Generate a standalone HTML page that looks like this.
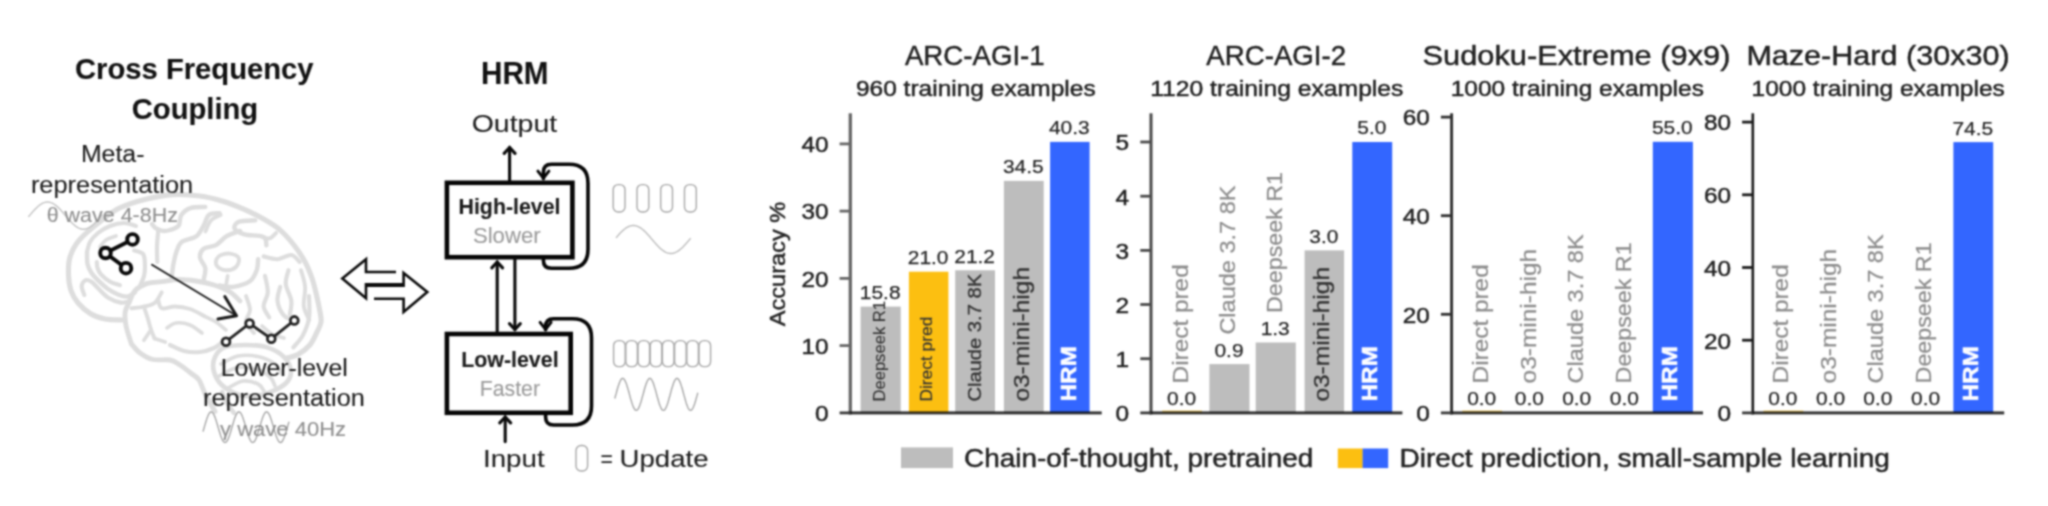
<!DOCTYPE html>
<html><head><meta charset="utf-8"><title>HRM figure</title>
<style>
html,body{margin:0;padding:0;background:#fff;}
body{width:2048px;height:506px;overflow:hidden;}
svg{display:block;font-family:"Liberation Sans",sans-serif;filter:url(#soft);}
svg text{white-space:pre;}
</style></head><body>
<svg width="2048" height="506" viewBox="0 0 2048 506">
<defs><filter id="soft" color-interpolation-filters="sRGB" x="0" y="0" width="100%" height="100%" filterUnits="objectBoundingBox"><feConvolveMatrix order="5" kernelMatrix="1 6 12 6 1 6 41 75 41 6 12 75 140 75 12 6 41 75 41 6 1 6 12 6 1" divisor="704" edgeMode="duplicate" preserveAlpha="true"/></filter></defs>
<rect width="2048" height="506" fill="#ffffff"/>
<g id="left">
<g fill="none" stroke="#dddddd" stroke-linecap="round" stroke-linejoin="round">
<path d="M122.0,320.0 C119.2,319.8 110.2,320.1 105.0,319.0 C99.8,317.9 95.1,316.4 90.6,313.7 C86.1,311.0 81.4,306.9 78.1,303.0 C74.8,299.1 72.6,295.3 71.0,290.6 C69.4,285.9 68.7,280.6 68.5,275.0 C68.3,269.4 68.2,262.9 70.0,257.0 C71.8,251.1 74.2,245.9 79.4,239.8 C84.7,233.7 94.7,225.7 101.5,220.4 C108.3,215.1 112.5,211.4 120.0,207.8 C127.5,204.2 137.8,201.1 146.7,198.9 C155.6,196.7 164.4,195.1 173.3,194.6 C182.2,194.1 191.9,194.9 200.0,196.0 C208.1,197.1 214.6,198.8 222.0,201.0 C229.4,203.2 237.4,206.4 244.3,209.4 C251.2,212.4 257.6,215.7 263.6,219.1 C269.6,222.5 275.1,225.7 280.2,230.1 C285.3,234.5 290.0,240.0 294.1,245.3 C298.2,250.6 302.1,256.4 305.1,261.9 C308.1,267.4 310.2,273.0 312.1,278.5 C314.0,284.0 315.2,289.6 316.5,295.1 C317.8,300.6 319.2,307.2 320.0,311.7 C320.8,316.2 321.5,318.6 321.0,322.0 C320.5,325.4 318.9,328.2 317.0,332.0 C315.1,335.8 313.0,341.2 309.8,345.0 C306.6,348.8 301.8,352.3 298.0,354.5 C294.2,356.7 288.8,357.4 287.0,358.0" stroke-width="5.12"/>
<path d="M309.0,296.0 C309.0,299.7 310.1,311.4 309.0,318.0 C307.9,324.6 305.3,330.7 302.7,335.6 C300.1,340.5 294.9,345.4 293.3,347.4" stroke-width="4.15"/>
<path d="M131.4,343.9 C130.5,340.9 127.1,331.4 126.1,326.1 C125.1,320.8 124.6,316.0 125.2,311.9 C125.8,307.8 128.1,304.8 129.7,301.2 C131.3,297.6 132.1,293.6 135.0,290.6 C137.9,287.6 143.0,284.9 147.4,283.4 C151.8,281.9 156.6,282.3 161.7,281.7 C166.8,281.1 172.3,279.6 178.0,279.5 C183.7,279.4 190.0,280.1 196.0,281.0 C202.0,281.9 208.3,283.2 214.0,285.0 C219.7,286.8 225.7,289.3 230.0,292.0 C234.3,294.7 238.3,299.5 240.0,301.0" stroke-width="4.88"/>
<path d="M131.4,343.9 C132.8,345.4 136.4,350.4 140.0,353.0 C143.6,355.6 148.0,358.3 153.0,359.5 C158.0,360.7 165.5,359.1 170.0,360.0 C174.5,360.9 176.4,362.8 180.0,365.0 C183.6,367.2 188.1,371.0 191.3,373.5 C194.5,376.0 196.6,376.4 199.0,380.0 C201.4,383.6 202.9,389.6 205.6,394.8 C208.3,400.0 213.4,408.6 215.0,411.4" stroke-width="4.88"/>
<path d="M170.0,345.0 C172.3,346.0 179.0,349.8 184.0,351.0 C189.0,352.2 195.0,352.5 200.0,352.0 C205.0,351.5 210.0,349.8 214.0,348.0 C218.0,346.2 222.3,342.2 224.0,341.0" stroke-width="4.15"/>
<path d="M222.0,392.0 C222.8,393.8 225.0,399.5 227.0,403.0 C229.0,406.5 232.8,411.3 234.0,413.0" stroke-width="4.39"/>
<path d="M215.0,357.0 C216.8,353.1 219.4,349.4 224.5,347.4 C229.6,345.4 238.7,345.0 245.8,345.0 C252.9,345.0 260.9,345.4 267.2,347.4 C273.5,349.4 279.9,352.9 283.8,356.9 C287.8,360.8 290.5,366.8 290.9,371.1 C291.3,375.5 289.7,379.4 286.1,383.0 C282.6,386.6 275.3,390.2 269.6,392.4 C263.9,394.6 257.1,395.6 252.0,396.0 C246.8,396.4 243.7,396.6 238.7,394.8 C233.7,393.0 226.2,389.2 222.1,385.3 C217.9,381.4 215.0,375.8 213.8,371.1 C212.6,366.4 213.2,360.9 215.0,357.0Z" stroke-width="4.64"/>
<path d="M221.0,364.0 C223.8,362.7 231.8,357.2 238.0,356.0 C244.2,354.8 251.8,355.2 258.0,356.5 C264.2,357.8 271.0,361.1 275.0,364.0 C279.0,366.9 280.8,372.3 282.0,374.0" stroke-width="3.66"/>
<path d="M219.0,376.0 C221.8,374.7 229.8,369.2 236.0,368.0 C242.2,366.8 250.3,367.5 256.0,369.0 C261.7,370.5 266.8,374.2 270.0,377.0 C273.2,379.8 274.2,384.5 275.0,386.0" stroke-width="3.66"/>
<path d="M228.0,388.0 C230.5,386.8 238.0,381.7 243.0,381.0 C248.0,380.3 254.5,382.3 258.0,384.0 C261.5,385.7 263.0,389.8 264.0,391.0" stroke-width="3.66"/>
<path d="M96.8,262.0 C96.9,263.0 96.8,265.9 97.5,268.0 C98.2,270.1 99.1,272.3 101.2,274.6 C103.3,276.9 107.0,279.9 110.1,281.7 C113.2,283.5 118.3,284.6 119.9,285.2" stroke-width="4.15"/>
<path d="M87.0,252.0 C87.1,254.0 86.8,260.4 87.5,263.9 C88.2,267.4 89.4,269.8 91.4,272.8 C93.4,275.8 96.6,279.0 99.4,281.7 C102.2,284.4 104.9,286.9 108.0,289.0 C111.1,291.1 114.7,293.2 118.0,294.5 C121.3,295.8 125.1,296.9 127.9,296.5 C130.7,296.1 133.8,293.0 135.0,292.3" stroke-width="4.39"/>
<path d="M84.3,295.0 C83.9,293.5 81.5,288.6 81.7,286.1 C81.9,283.6 84.0,280.9 85.6,280.2 C87.2,279.5 89.2,280.3 91.4,281.7 C93.6,283.1 95.8,286.1 98.6,288.8 C101.4,291.5 104.6,295.4 108.3,297.7 C112.0,300.0 117.5,302.0 120.8,302.6 C124.1,303.2 126.8,301.7 128.0,301.5" stroke-width="4.15"/>
<path d="M87.0,252.0 C87.5,250.3 88.2,245.2 90.0,242.0 C91.8,238.8 94.7,235.7 98.0,233.0 C101.3,230.3 105.7,227.7 110.0,226.0 C114.3,224.3 119.7,223.0 124.0,223.0 C128.3,223.0 134.0,225.5 136.0,226.0" stroke-width="4.15"/>
<path d="M100.0,247.0 C101.0,245.8 103.3,241.8 106.0,240.0 C108.7,238.2 114.3,236.7 116.0,236.0" stroke-width="3.66"/>
<path d="M134.2,250.4 C135.7,251.0 141.3,251.6 143.1,254.0 C144.9,256.4 144.8,261.0 144.9,264.7 C145.1,268.4 144.8,272.6 144.0,276.0 C143.2,279.4 140.9,283.7 140.3,285.2" stroke-width="4.15"/>
<path d="M205.3,206.9 C202.9,207.1 195.1,206.5 191.1,207.8 C187.1,209.1 183.4,211.9 181.3,214.9 C179.2,217.9 180.6,223.1 178.7,225.6 C176.8,228.1 172.7,229.1 170.0,230.0 C167.3,230.9 165.1,231.2 162.7,230.9 C160.3,230.6 157.4,229.3 155.6,228.2 C153.8,227.0 152.6,224.7 152.0,224.0" stroke-width="4.39"/>
<path d="M158.2,230.9 C158.0,233.4 157.2,240.8 157.0,246.0 C156.8,251.2 157.2,259.3 157.3,262.0" stroke-width="4.15"/>
<path d="M219.6,213.1 C217.8,213.4 211.6,212.8 208.9,214.9 C206.2,217.0 205.7,222.1 203.6,225.6 C201.5,229.1 200.0,233.5 196.4,236.2 C192.8,238.9 185.4,239.2 182.2,241.6 C178.9,244.0 178.4,246.6 176.9,250.4 C175.4,254.2 174.2,259.9 173.3,264.7 C172.4,269.5 171.9,276.6 171.6,279.0" stroke-width="4.39"/>
<path d="M240.0,230.9 C237.8,231.8 230.7,233.8 226.7,236.2 C222.7,238.6 219.8,243.0 216.0,245.1 C212.2,247.2 206.3,246.6 203.6,248.7 C200.9,250.8 199.7,254.4 200.0,257.6 C200.3,260.9 204.7,264.5 205.3,268.2 C205.9,271.9 203.9,278.0 203.6,280.0" stroke-width="4.39"/>
<path d="M220.8,214.9 C219.2,215.8 213.6,217.6 211.0,220.4 C208.4,223.2 206.4,229.7 205.5,231.5" stroke-width="3.66"/>
<path d="M255.3,220.4 C252.5,220.6 242.1,220.4 238.7,221.8 C235.2,223.2 233.7,226.6 234.6,228.7 C235.5,230.8 239.5,232.9 244.3,234.3 C249.1,235.7 259.9,235.2 263.6,237.0 C267.3,238.8 265.9,243.9 266.4,245.3" stroke-width="4.39"/>
<path d="M276.1,232.9 C275.0,233.8 272.0,237.9 269.2,238.4 C266.4,238.9 261.1,236.1 259.5,235.7" stroke-width="3.90"/>
<path d="M221.0,255.0 C223.2,254.1 227.1,253.1 230.0,253.6 C232.9,254.1 237.7,255.8 238.7,258.0 C239.7,260.2 238.1,265.0 236.0,267.0 C233.9,269.0 229.2,270.4 226.0,270.2 C222.8,270.0 218.6,267.9 217.0,266.0 C215.4,264.1 215.9,260.8 216.6,259.0 C217.3,257.2 218.8,255.9 221.0,255.0Z" stroke-width="3.90"/>
<path d="M227.7,275.8 C227.5,277.2 226.5,282.6 226.3,284.0" stroke-width="3.66"/>
<path d="M258.1,259.2 C257.9,261.0 258.1,266.5 256.7,270.2 C255.3,273.9 253.7,278.5 249.8,281.3 C245.9,284.1 238.3,286.1 233.2,286.8 C228.1,287.5 221.7,285.7 219.4,285.5" stroke-width="4.39"/>
<path d="M263.6,256.4 C265.9,256.9 272.9,259.4 277.5,259.2 C282.1,259.0 287.6,254.6 291.3,255.0 C295.0,255.4 298.2,260.8 299.6,261.9" stroke-width="4.15"/>
<path d="M288.5,270.2 C288.1,272.5 285.3,279.0 285.8,284.1 C286.3,289.2 290.6,295.6 291.3,300.7 C292.0,305.8 290.1,312.2 289.9,314.5" stroke-width="4.15"/>
<path d="M301.0,270.2 C301.7,273.0 304.6,280.8 305.1,286.8 C305.6,292.8 303.1,300.7 303.8,306.2 C304.5,311.7 308.4,317.7 309.3,320.0" stroke-width="3.90"/>
<path d="M265.0,275.8 C265.5,278.6 268.0,287.3 267.8,292.4 C267.6,297.5 263.4,302.0 263.6,306.2 C263.8,310.4 268.3,315.4 269.2,317.3" stroke-width="4.15"/>
<path d="M280.2,286.8 C279.8,289.1 277.0,296.1 277.5,300.7 C278.0,305.3 280.7,311.3 283.0,314.5 C285.3,317.7 289.9,319.1 291.3,320.0" stroke-width="4.15"/>
<path d="M246.0,296.0 C246.7,298.3 250.0,305.7 250.0,310.0 C250.0,314.3 245.3,318.2 246.0,322.0 C246.7,325.8 252.7,331.2 254.0,333.0" stroke-width="3.90"/>
<path d="M262.0,326.0 C263.7,327.3 268.3,332.0 272.0,334.0 C275.7,336.0 282.0,337.3 284.0,338.0" stroke-width="3.66"/>
<path d="M131.4,308.3 C133.5,308.0 140.0,307.5 143.9,306.6 C147.8,305.7 151.6,305.4 154.6,303.0 C157.6,300.6 160.5,294.1 161.7,292.3" stroke-width="3.90"/>
<path d="M143.9,306.6 C144.5,308.4 146.2,313.4 147.4,317.2 C148.6,321.0 149.8,326.1 151.0,329.7 C152.2,333.3 154.0,337.1 154.6,338.6" stroke-width="3.90"/>
<path d="M151.0,329.7 C149.8,331.5 145.1,338.5 143.9,340.3" stroke-width="3.66"/>
<path d="M154.6,338.6 C156.4,339.2 163.4,341.5 165.2,342.1" stroke-width="3.66"/>
<path d="M158.1,299.4 C158.7,300.9 158.9,307.1 161.7,308.3 C164.5,309.5 170.3,306.4 175.0,306.5 C179.7,306.6 185.2,307.4 190.0,309.0 C194.8,310.6 201.7,314.8 204.0,316.0" stroke-width="3.90"/>
<path d="M167.0,327.9 C168.5,327.1 172.2,323.5 176.0,323.0 C179.8,322.5 185.7,323.3 190.0,325.0 C194.3,326.7 200.0,331.7 202.0,333.0" stroke-width="3.66"/>
<path d="M204.0,316.0 C206.0,317.0 212.3,319.7 216.0,322.0 C219.7,324.3 224.3,328.7 226.0,330.0" stroke-width="3.66"/>
</g>

<polyline points="28.4,216.9 29.1,216.0 29.9,215.1 30.6,214.2 31.4,213.4 32.1,212.5 32.9,211.6 33.6,210.8 34.4,210.0 35.1,209.2 35.9,208.4 36.6,207.7 37.4,207.0 38.1,206.3 38.9,205.7 39.6,205.1 40.4,204.5 41.1,204.1 41.9,203.6 42.6,203.2 43.4,202.9 44.1,202.6 44.9,202.4 45.6,202.2 46.4,202.1 47.1,202.0 47.9,202.0 48.6,202.1 49.4,202.2 50.1,202.4 50.9,202.6 51.6,202.9 52.4,203.2 53.1,203.6 53.8,204.0 54.6,204.5 55.3,205.1 56.1,205.6 56.8,206.3 57.6,206.9 58.3,207.6 59.1,208.4 59.8,209.1 60.6,209.9 61.3,210.8 62.1,211.6 62.8,212.5 63.6,213.3 64.3,214.2 65.1,215.1 65.8,216.0 66.6,216.9 67.3,217.8 68.1,218.6 68.8,219.5 69.6,220.3 70.3,221.1 71.1,221.9 71.8,222.7 72.6,223.5 73.3,224.2 74.1,224.8 74.8,225.5 75.6,226.1 76.3,226.6 77.1,227.1 77.8,227.6 78.5,227.9 79.3,228.3 80.0,228.6 80.8,228.8 81.5,229.0 82.3,229.1 83.0,229.2 83.8,229.2 84.5,229.1 85.3,229.0 86.0,228.9 86.8,228.6 87.5,228.4 88.3,228.0 89.0,227.6 89.8,227.2 90.5,226.7 91.3,226.2 92.0,225.6 92.8,225.0 93.5,224.3 94.3,223.6 95.0,222.9 95.8,222.1 96.5,221.3 97.3,220.5 98.0,219.7 98.8,218.8 99.5,218.0 100.3,217.1 101.0,216.2 101.8,215.3 102.5,214.4" fill="none" stroke="#c2c2c2" stroke-width="1.4"/>
<polyline points="203.0,431.6 203.4,430.1 203.9,428.6 204.3,427.1 204.7,425.6 205.2,424.1 205.6,422.7 206.0,421.3 206.5,419.9 206.9,418.6 207.3,417.4 207.8,416.3 208.2,415.3 208.6,414.4 209.1,413.7 209.5,413.0 209.9,412.5 210.3,412.2 210.8,412.0 211.2,411.9 211.6,412.0 212.1,412.2 212.5,412.6 212.9,413.1 213.4,413.7 213.8,414.5 214.2,415.4 214.7,416.4 215.1,417.5 215.5,418.7 216.0,420.0 216.4,421.4 216.8,422.8 217.3,424.2 217.7,425.7 218.1,427.2 218.6,428.7 219.0,430.2 219.4,431.6 219.9,433.0 220.3,434.4 220.7,435.7 221.2,436.9 221.6,438.0 222.0,439.0 222.4,439.9 222.9,440.7 223.3,441.3 223.7,441.8 224.2,442.2 224.6,442.4 225.0,442.5 225.5,442.4 225.9,442.2 226.3,441.9 226.8,441.4 227.2,440.7 227.6,439.9 228.1,439.1 228.5,438.1 228.9,436.9 229.4,435.7 229.8,434.5 230.2,433.1 230.7,431.7 231.1,430.2 231.5,428.8 232.0,427.3 232.4,425.8 232.8,424.3 233.3,422.8 233.7,421.4 234.1,420.1 234.5,418.8 235.0,417.6 235.4,416.4 235.8,415.4 236.3,414.5 236.7,413.8 237.1,413.1 237.6,412.6 238.0,412.2 238.4,412.0 238.9,411.9 239.3,412.0 239.7,412.2 240.2,412.5 240.6,413.0 241.0,413.7 241.5,414.4 241.9,415.3 242.3,416.3 242.8,417.4 243.2,418.6 243.6,419.9 244.1,421.2 244.5,422.6 244.9,424.1 245.4,425.6 245.8,427.1 246.2,428.6 246.6,430.0 247.1,431.5 247.5,432.9 247.9,434.3 248.4,435.6 248.8,436.8 249.2,437.9 249.7,438.9 250.1,439.8 250.5,440.6 251.0,441.3 251.4,441.8 251.8,442.2 252.3,442.4 252.7,442.5 253.1,442.4 253.6,442.2 254.0,441.9 254.4,441.4 254.9,440.8 255.3,440.0 255.7,439.1 256.2,438.2 256.6,437.1 257.0,435.9 257.5,434.6 257.9,433.2 258.3,431.8 258.7,430.4 259.2,428.9 259.6,427.4 260.0,425.9 260.5,424.4 260.9,423.0 261.3,421.6 261.8,420.2 262.2,418.9 262.6,417.7 263.1,416.5 263.5,415.5 263.9,414.6 264.4,413.8 264.8,413.2 265.2,412.6 265.7,412.2 266.1,412.0 266.5,411.9 267.0,412.0 267.4,412.1 267.8,412.5 268.3,413.0 268.7,413.6 269.1,414.3 269.6,415.2 270.0,416.2 270.4,417.3 270.8,418.5 271.3,419.7 271.7,421.1 272.1,422.5 272.6,423.9 273.0,425.4 273.4,426.9 273.9,428.4 274.3,429.9 274.7,431.4 275.2,432.8 275.6,434.1 276.0,435.4 276.5,436.7 276.9,437.8 277.3,438.8 277.8,439.7 278.2,440.5 278.6,441.2 279.1,441.7 279.5,442.1 279.9,442.4 280.4,442.5 280.8,442.5 281.2,442.3 281.7,441.9 282.1,441.5 282.5,440.8 282.9,440.1 283.4,439.2 283.8,438.3 284.2,437.2 284.7,436.0 285.1,434.7 285.5,433.4 286.0,432.0 286.4,430.5 286.8,429.1 287.3,427.6 287.7,426.1 288.1,424.6 288.6,423.1 289.0,421.7" fill="none" stroke="#a6a6a6" stroke-width="1.4"/>
<text x="75.0" y="79.3" font-size="29.5" text-anchor="start" fill="#111" stroke="#111" stroke-width="0.1" font-weight="bold" textLength="238.6" lengthAdjust="spacingAndGlyphs">Cross Frequency</text>
<text x="131.8" y="118.6" font-size="29.5" text-anchor="start" fill="#111" stroke="#111" stroke-width="0.1" font-weight="bold" textLength="126.4" lengthAdjust="spacingAndGlyphs">Coupling</text>
<text x="80.9" y="161.8" font-size="23" text-anchor="start" fill="#1c1c1c" stroke="#1c1c1c" stroke-width="0.1" textLength="63.6" lengthAdjust="spacingAndGlyphs">Meta-</text>
<text x="30.9" y="192.7" font-size="23" text-anchor="start" fill="#1c1c1c" stroke="#1c1c1c" stroke-width="0.1" textLength="162.3" lengthAdjust="spacingAndGlyphs">representation</text>
<text x="46.7" y="222.3" font-size="19.4" text-anchor="start" fill="#8e8e8e" stroke="#8e8e8e" stroke-width="0.1" textLength="131.2" lengthAdjust="spacingAndGlyphs">θ wave 4-8Hz</text>
<text x="220.8" y="375.6" font-size="23" text-anchor="start" fill="#1c1c1c" stroke="#1c1c1c" stroke-width="0.1" textLength="127.1" lengthAdjust="spacingAndGlyphs">Lower-level</text>
<text x="203.0" y="406.4" font-size="23" text-anchor="start" fill="#1c1c1c" stroke="#1c1c1c" stroke-width="0.1" textLength="161.9" lengthAdjust="spacingAndGlyphs">representation</text>
<text x="220.0" y="436.1" font-size="19.4" text-anchor="start" fill="#8e8e8e" stroke="#8e8e8e" stroke-width="0.1" textLength="126.1" lengthAdjust="spacingAndGlyphs">γ wave 40Hz</text>
<g fill="#fff" stroke="#080808" stroke-width="3.9"><path d="M132.5,239.4 L105.5,253 L126,268.2" fill="none"/><circle cx="132.5" cy="239.4" r="5.3"/><circle cx="105.5" cy="253" r="5.3"/><circle cx="126" cy="268.2" r="5.3"/></g>
<g fill="none" stroke="#181818" stroke-width="1.9" stroke-linecap="round" stroke-linejoin="round"><path d="M152,264.8 L236.5,315.7"/><path d="M224.8,296.5 L236.5,315.7 L218,319" stroke-width="3.0"/></g>
<g fill="#fff" stroke="#222" stroke-width="2.8"><path d="M226,341.7 L249.6,323.5 L271.3,338.7 L294.3,320.4" fill="none"/><circle cx="226" cy="341.7" r="3.9"/><circle cx="249.6" cy="323.5" r="3.9"/><circle cx="271.3" cy="338.7" r="3.9"/><circle cx="294.3" cy="320.4" r="3.9"/></g>
<g fill="none" stroke="#0a0a0a" stroke-width="2.6" stroke-linejoin="miter"><path d="M396,272 L366,272 L366,259.2 L342.3,278.4 L366,298.2 L366,284.4 L403.6,284.4"/><path d="M374,298.7 L403.6,298.7 L403.6,312.0 L427.3,292.1 L403.6,273.0 L403.6,285.7 L366,285.7"/></g>
<text x="481.0" y="83.7" font-size="30.5" text-anchor="start" fill="#111" stroke="#111" stroke-width="0.1" font-weight="bold" textLength="67.6" lengthAdjust="spacingAndGlyphs">HRM</text>
<text x="471.7" y="132.4" font-size="24.5" text-anchor="start" fill="#1c1c1c" stroke="#1c1c1c" stroke-width="0.1" textLength="85.5" lengthAdjust="spacingAndGlyphs">Output</text>
<text x="483.0" y="467.2" font-size="24.5" text-anchor="start" fill="#1c1c1c" stroke="#1c1c1c" stroke-width="0.1" textLength="61.6" lengthAdjust="spacingAndGlyphs">Input</text>
<text x="600.6" y="467.2" font-size="24.5" text-anchor="start" fill="#1c1c1c" stroke="#1c1c1c" stroke-width="0.1" textLength="12.4" lengthAdjust="spacingAndGlyphs">=</text>
<text x="619.6" y="467.2" font-size="24.5" text-anchor="start" fill="#1c1c1c" stroke="#1c1c1c" stroke-width="0.1" textLength="89.0" lengthAdjust="spacingAndGlyphs">Update</text>
<g fill="none" stroke="#050505" stroke-width="3.6" stroke-linecap="round" stroke-linejoin="round"><path d="M543.4,259.4 L543.4,260.3 Q543.4,268.3 551.4,268.3 L569.0,268.3 Q588.0,268.3 588.0,249.3 L588.0,183.3 Q588.0,164.3 569.0,164.3 L551.4,164.3 Q543.4,164.3 543.4,172.3 L543.4,178.6"/><path d="M537.9,171.1 L543.4,178.1 L548.9,171.1" stroke-width="2.9"/></g>
<g fill="none" stroke="#050505" stroke-width="3.6" stroke-linecap="round" stroke-linejoin="round"><path d="M545.6,414.2 L545.6,417.0 Q545.6,425.0 553.6,425.0 L572.5,425.0 Q591.5,425.0 591.5,406.0 L591.5,337.7 Q591.5,318.7 572.5,318.7 L553.6,318.7 Q545.6,318.7 545.6,326.7 L545.6,329.8"/><path d="M540.1,322.3 L545.6,329.3 L551.1,322.3" stroke-width="2.9"/></g>
<rect x="446.9" y="182.8" width="125.5" height="74.4" fill="#fff" stroke="#050505" stroke-width="4.6"/>
<rect x="446.9" y="334.0" width="123.8" height="78.8" fill="#fff" stroke="#050505" stroke-width="4.6"/>
<text x="458.5" y="214.2" font-size="22" text-anchor="start" fill="#1a1a1a" stroke="#1a1a1a" stroke-width="0.1" font-weight="bold" textLength="102.0" lengthAdjust="spacingAndGlyphs">High-level</text>
<text x="472.9" y="242.9" font-size="22" text-anchor="start" fill="#9a9a9a" stroke="#9a9a9a" stroke-width="0.1" textLength="67.7" lengthAdjust="spacingAndGlyphs">Slower</text>
<text x="461.2" y="367.2" font-size="22" text-anchor="start" fill="#1a1a1a" stroke="#1a1a1a" stroke-width="0.1" font-weight="bold" textLength="97.4" lengthAdjust="spacingAndGlyphs">Low-level</text>
<text x="479.8" y="396.2" font-size="22" text-anchor="start" fill="#9a9a9a" stroke="#9a9a9a" stroke-width="0.1" textLength="60.2" lengthAdjust="spacingAndGlyphs">Faster</text>
<g fill="none" stroke="#0a0a0a" stroke-width="3.1" stroke-linecap="round" stroke-linejoin="miter"><path d="M509.6,181 L509.6,147.5"/><path d="M504.20000000000005,153.4 L509.6,147.5 L515.0,153.4"/></g>
<g fill="none" stroke="#0a0a0a" stroke-width="3.1" stroke-linecap="round" stroke-linejoin="miter"><path d="M497.2,333 L497.2,262.0"/><path d="M491.8,267.9 L497.2,262.0 L502.59999999999997,267.9"/></g>
<g fill="none" stroke="#0a0a0a" stroke-width="3.1" stroke-linecap="round" stroke-linejoin="miter"><path d="M514.9,258 L514.9,329.5"/><path d="M509.5,323.6 L514.9,329.5 L520.3,323.6"/></g>
<g fill="none" stroke="#0a0a0a" stroke-width="3.1" stroke-linecap="round" stroke-linejoin="miter"><path d="M505.2,441.6 L505.2,417.0"/><path d="M499.8,422.9 L505.2,417.0 L510.59999999999997,422.9"/></g>
<rect x="613.2" y="184.6" width="11.8" height="27.4" rx="5" fill="none" stroke="#a8a8a8" stroke-width="1.4"/>
<rect x="637.0" y="184.6" width="11.8" height="27.4" rx="5" fill="none" stroke="#a8a8a8" stroke-width="1.4"/>
<rect x="660.7" y="184.6" width="11.8" height="27.4" rx="5" fill="none" stroke="#a8a8a8" stroke-width="1.4"/>
<rect x="684.5" y="184.6" width="11.8" height="27.4" rx="5" fill="none" stroke="#a8a8a8" stroke-width="1.4"/>
<rect x="613.6" y="340.6" width="11.6" height="26.0" rx="5" fill="none" stroke="#a8a8a8" stroke-width="1.4"/>
<rect x="625.8" y="340.6" width="11.6" height="26.0" rx="5" fill="none" stroke="#a8a8a8" stroke-width="1.4"/>
<rect x="638.0" y="340.6" width="11.6" height="26.0" rx="5" fill="none" stroke="#a8a8a8" stroke-width="1.4"/>
<rect x="650.2" y="340.6" width="11.6" height="26.0" rx="5" fill="none" stroke="#a8a8a8" stroke-width="1.4"/>
<rect x="662.4" y="340.6" width="11.6" height="26.0" rx="5" fill="none" stroke="#a8a8a8" stroke-width="1.4"/>
<rect x="674.6" y="340.6" width="11.6" height="26.0" rx="5" fill="none" stroke="#a8a8a8" stroke-width="1.4"/>
<rect x="686.8" y="340.6" width="11.6" height="26.0" rx="5" fill="none" stroke="#a8a8a8" stroke-width="1.4"/>
<rect x="699.0" y="340.6" width="11.6" height="26.0" rx="5" fill="none" stroke="#a8a8a8" stroke-width="1.4"/>
<rect x="576" y="445.5" width="11.6" height="25.5" rx="5" fill="none" stroke="#a8a8a8" stroke-width="1.4"/>
<polyline points="616.0,237.9 616.8,237.0 617.5,236.1 618.3,235.3 619.0,234.4 619.8,233.6 620.5,232.8 621.3,232.1 622.0,231.3 622.8,230.6 623.5,230.0 624.3,229.3 625.1,228.7 625.8,228.2 626.6,227.7 627.3,227.2 628.1,226.8 628.8,226.5 629.6,226.2 630.3,225.9 631.1,225.7 631.8,225.6 632.6,225.5 633.4,225.5 634.1,225.5 634.9,225.6 635.6,225.8 636.4,225.9 637.1,226.2 637.9,226.5 638.6,226.9 639.4,227.3 640.1,227.7 640.9,228.2 641.7,228.8 642.4,229.3 643.2,230.0 643.9,230.6 644.7,231.3 645.4,232.1 646.2,232.8 646.9,233.6 647.7,234.4 648.4,235.3 649.2,236.1 650.0,237.0 650.7,237.9 651.5,238.8 652.2,239.6 653.0,240.5 653.7,241.4 654.5,242.3 655.2,243.1 656.0,244.0 656.7,244.8 657.5,245.6 658.3,246.4 659.0,247.2 659.8,247.9 660.5,248.6 661.3,249.2 662.0,249.8 662.8,250.4 663.5,251.0 664.3,251.4 665.0,251.9 665.8,252.3 666.6,252.6 667.3,252.9 668.1,253.1 668.8,253.3 669.6,253.4 670.3,253.5 671.1,253.5 671.8,253.5 672.6,253.4 673.3,253.2 674.1,253.0 674.9,252.7 675.6,252.4 676.4,252.0 677.1,251.6 677.9,251.1 678.6,250.6 679.4,250.1 680.1,249.5 680.9,248.8 681.6,248.2 682.4,247.4 683.2,246.7 683.9,245.9 684.7,245.1 685.4,244.3 686.2,243.5 686.9,242.6 687.7,241.7 688.4,240.9 689.2,240.0 689.9,239.1 690.7,238.2" fill="none" stroke="#bcbcbc" stroke-width="1.4"/>
<polyline points="614.8,398.5 615.2,397.0 615.6,395.4 616.1,393.9 616.5,392.3 616.9,390.8 617.3,389.3 617.7,387.9 618.1,386.5 618.6,385.2 619.0,384.0 619.4,382.9 619.8,381.9 620.2,381.0 620.6,380.2 621.1,379.5 621.5,379.0 621.9,378.7 622.3,378.5 622.7,378.4 623.1,378.5 623.6,378.7 624.0,379.1 624.4,379.6 624.8,380.3 625.2,381.1 625.6,382.0 626.1,383.0 626.5,384.1 626.9,385.4 627.3,386.7 627.7,388.1 628.1,389.5 628.6,391.0 629.0,392.5 629.4,394.1 629.8,395.6 630.2,397.1 630.6,398.7 631.1,400.1 631.5,401.5 631.9,402.9 632.3,404.1 632.7,405.3 633.2,406.4 633.6,407.4 634.0,408.2 634.4,408.9 634.8,409.5 635.2,409.9 635.7,410.2 636.1,410.4 636.5,410.4 636.9,410.2 637.3,409.9 637.7,409.5 638.2,408.9 638.6,408.2 639.0,407.3 639.4,406.4 639.8,405.3 640.2,404.1 640.7,402.8 641.1,401.5 641.5,400.1 641.9,398.6 642.3,397.1 642.7,395.6 643.2,394.0 643.6,392.5 644.0,391.0 644.4,389.5 644.8,388.0 645.2,386.7 645.7,385.3 646.1,384.1 646.5,383.0 646.9,381.9 647.3,381.0 647.7,380.3 648.2,379.6 648.6,379.1 649.0,378.7 649.4,378.5 649.8,378.4 650.3,378.5 650.7,378.7 651.1,379.1 651.5,379.6 651.9,380.2 652.3,381.0 652.8,381.9 653.2,382.9 653.6,384.0 654.0,385.2 654.4,386.6 654.8,387.9 655.3,389.4 655.7,390.9 656.1,392.4 656.5,393.9 656.9,395.5 657.3,397.0 657.8,398.5 658.2,400.0 658.6,401.4 659.0,402.8 659.4,404.0 659.8,405.2 660.3,406.3 660.7,407.3 661.1,408.1 661.5,408.9 661.9,409.5 662.3,409.9 662.8,410.2 663.2,410.4 663.6,410.4 664.0,410.3 664.4,410.0 664.9,409.5 665.3,409.0 665.7,408.3 666.1,407.4 666.5,406.5 666.9,405.4 667.4,404.2 667.8,403.0 668.2,401.6 668.6,400.2 669.0,398.8 669.4,397.3 669.9,395.7 670.3,394.2 670.7,392.6 671.1,391.1 671.5,389.6 671.9,388.2 672.4,386.8 672.8,385.5 673.2,384.2 673.6,383.1 674.0,382.0 674.4,381.1 674.9,380.3 675.3,379.7 675.7,379.1 676.1,378.7 676.5,378.5 676.9,378.4 677.4,378.5 677.8,378.7 678.2,379.0 678.6,379.5 679.0,380.1 679.4,380.9 679.9,381.8 680.3,382.8 680.7,383.9 681.1,385.1 681.5,386.4 682.0,387.8 682.4,389.2 682.8,390.7 683.2,392.2 683.6,393.8 684.0,395.3 684.5,396.9 684.9,398.4 685.3,399.8 685.7,401.3 686.1,402.6 686.5,403.9 687.0,405.1 687.4,406.2 687.8,407.2 688.2,408.1 688.6,408.8 689.0,409.4 689.5,409.9 689.9,410.2 690.3,410.4 690.7,410.4 691.1,410.3 691.5,410.0 692.0,409.6 692.4,409.0 692.8,408.3 693.2,407.5 693.6,406.6 694.0,405.5 694.5,404.3 694.9,403.1 695.3,401.8 695.7,400.4 696.1,398.9 696.5,397.4 697.0,395.9 697.4,394.3 697.8,392.8" fill="none" stroke="#a6a6a6" stroke-width="1.4"/>
</g>
<g id="charts">
<rect x="860.6" y="306.6" width="40.1" height="106.3" fill="#bdbdbd"/>
<text x="880.2" y="299.0" font-size="18.73" text-anchor="middle" fill="#262626" stroke="#262626" stroke-width="0.25" textLength="40.7" lengthAdjust="spacingAndGlyphs">15.8</text>
<text x="885.1" y="401.6" font-size="15.61" text-anchor="start" fill="#333333" stroke="#333333" stroke-width="0.15" textLength="100.7" lengthAdjust="spacingAndGlyphs" transform="rotate(-90 885.1 401.6)">Deepseek R1</text>
<rect x="908.9" y="271.7" width="39.5" height="141.2" fill="#fcbf11"/>
<text x="928.1" y="264.1" font-size="18.73" text-anchor="middle" fill="#262626" stroke="#262626" stroke-width="0.25" textLength="40.7" lengthAdjust="spacingAndGlyphs">21.0</text>
<text x="931.9" y="401.6" font-size="15.61" text-anchor="start" fill="#333333" stroke="#333333" stroke-width="0.15" textLength="85.0" lengthAdjust="spacingAndGlyphs" transform="rotate(-90 931.9 401.6)">Direct pred</text>
<rect x="955.2" y="270.3" width="39.8" height="142.6" fill="#bdbdbd"/>
<text x="974.6" y="262.7" font-size="18.73" text-anchor="middle" fill="#262626" stroke="#262626" stroke-width="0.25" textLength="40.7" lengthAdjust="spacingAndGlyphs">21.2</text>
<text x="981.1" y="401.6" font-size="18.73" text-anchor="start" fill="#333333" stroke="#333333" stroke-width="0.35" textLength="127.7" lengthAdjust="spacingAndGlyphs" transform="rotate(-90 981.1 401.6)">Claude 3.7 8K</text>
<rect x="1003.9" y="180.9" width="39.8" height="232.0" fill="#bdbdbd"/>
<text x="1023.3" y="173.3" font-size="18.73" text-anchor="middle" fill="#262626" stroke="#262626" stroke-width="0.25" textLength="40.7" lengthAdjust="spacingAndGlyphs">34.5</text>
<text x="1029.4" y="401.6" font-size="21.85" text-anchor="start" fill="#333333" stroke="#333333" stroke-width="0.35" textLength="134.6" lengthAdjust="spacingAndGlyphs" transform="rotate(-90 1029.4 401.6)">o3-mini-high</text>
<rect x="1050.1" y="141.9" width="39.5" height="271.0" fill="#3366ff"/>
<text x="1069.3" y="134.3" font-size="18.73" text-anchor="middle" fill="#262626" stroke="#262626" stroke-width="0.25" textLength="40.7" lengthAdjust="spacingAndGlyphs">40.3</text>
<text x="1076.2" y="401.6" font-size="21.85" text-anchor="start" fill="#ffffff" stroke="#ffffff" stroke-width="0.45" font-weight="bold" textLength="55.5" lengthAdjust="spacingAndGlyphs" transform="rotate(-90 1076.2 401.6)">HRM</text>
<rect x="848.65" y="113.3" width="3.3" height="301.0" fill="#666666"/>
<rect x="848.7" y="411.4" width="253.0" height="3.0" fill="#0c0c0c" opacity="0.84"/>
<rect x="839.6" y="411.5" width="10.7" height="2.8" fill="#3a3a3a"/>
<text x="828.5" y="421.2" font-size="21.85" text-anchor="end" fill="#202020" stroke="#202020" stroke-width="0.45" textLength="13.6" lengthAdjust="spacingAndGlyphs">0</text>
<rect x="839.6" y="344.2" width="10.7" height="2.8" fill="#666666"/>
<text x="828.5" y="353.9" font-size="21.85" text-anchor="end" fill="#202020" stroke="#202020" stroke-width="0.45" textLength="27.1" lengthAdjust="spacingAndGlyphs">10</text>
<rect x="839.6" y="277.0" width="10.7" height="2.8" fill="#666666"/>
<text x="828.5" y="286.7" font-size="21.85" text-anchor="end" fill="#202020" stroke="#202020" stroke-width="0.45" textLength="27.1" lengthAdjust="spacingAndGlyphs">20</text>
<rect x="839.6" y="209.7" width="10.7" height="2.8" fill="#666666"/>
<text x="828.5" y="219.4" font-size="21.85" text-anchor="end" fill="#202020" stroke="#202020" stroke-width="0.45" textLength="27.1" lengthAdjust="spacingAndGlyphs">30</text>
<rect x="839.6" y="142.5" width="10.7" height="2.8" fill="#666666"/>
<text x="828.5" y="152.2" font-size="21.85" text-anchor="end" fill="#202020" stroke="#202020" stroke-width="0.45" textLength="27.1" lengthAdjust="spacingAndGlyphs">40</text>
<text x="974.8" y="65.2" font-size="28.09" text-anchor="middle" fill="#202020" stroke="#202020" stroke-width="0.45" textLength="139.8" lengthAdjust="spacingAndGlyphs">ARC-AGI-1</text>
<text x="975.8" y="95.9" font-size="21.85" text-anchor="middle" fill="#202020" stroke="#202020" stroke-width="0.45" textLength="239.7" lengthAdjust="spacingAndGlyphs">960 training examples</text>
<rect x="1162.2" y="410.5" width="39.8" height="2.4" fill="#fcbf11" opacity="0.6"/>
<text x="1181.6" y="405.3" font-size="18.73" text-anchor="middle" fill="#262626" stroke="#262626" stroke-width="0.25" textLength="29.1" lengthAdjust="spacingAndGlyphs">0.0</text>
<text x="1188.5" y="383.4" font-size="21.85" text-anchor="start" fill="#8c8c8c" stroke="#8c8c8c" stroke-width="0.25" textLength="119.1" lengthAdjust="spacingAndGlyphs" transform="rotate(-90 1188.5 383.4)">Direct pred</text>
<rect x="1209.4" y="364.1" width="40.1" height="48.8" fill="#bdbdbd"/>
<text x="1229.0" y="356.5" font-size="18.73" text-anchor="middle" fill="#262626" stroke="#262626" stroke-width="0.25" textLength="29.1" lengthAdjust="spacingAndGlyphs">0.9</text>
<text x="1234.9" y="334.6" font-size="21.85" text-anchor="start" fill="#8c8c8c" stroke="#8c8c8c" stroke-width="0.25" textLength="149.0" lengthAdjust="spacingAndGlyphs" transform="rotate(-90 1234.9 334.6)">Claude 3.7 8K</text>
<rect x="1255.7" y="342.5" width="40.1" height="70.4" fill="#bdbdbd"/>
<text x="1275.2" y="334.9" font-size="18.73" text-anchor="middle" fill="#262626" stroke="#262626" stroke-width="0.25" textLength="29.1" lengthAdjust="spacingAndGlyphs">1.3</text>
<text x="1282.0" y="313.0" font-size="21.85" text-anchor="start" fill="#8c8c8c" stroke="#8c8c8c" stroke-width="0.25" textLength="141.0" lengthAdjust="spacingAndGlyphs" transform="rotate(-90 1282.0 313.0)">Deepseek R1</text>
<rect x="1304.6" y="250.4" width="39.5" height="162.5" fill="#bdbdbd"/>
<text x="1323.8" y="242.8" font-size="18.73" text-anchor="middle" fill="#262626" stroke="#262626" stroke-width="0.25" textLength="29.1" lengthAdjust="spacingAndGlyphs">3.0</text>
<text x="1329.0" y="401.6" font-size="21.85" text-anchor="start" fill="#333333" stroke="#333333" stroke-width="0.35" textLength="134.6" lengthAdjust="spacingAndGlyphs" transform="rotate(-90 1329.0 401.6)">o3-mini-high</text>
<rect x="1352.3" y="142.0" width="39.9" height="270.9" fill="#3366ff"/>
<text x="1371.8" y="134.4" font-size="18.73" text-anchor="middle" fill="#262626" stroke="#262626" stroke-width="0.25" textLength="29.1" lengthAdjust="spacingAndGlyphs">5.0</text>
<text x="1376.9" y="401.6" font-size="21.85" text-anchor="start" fill="#ffffff" stroke="#ffffff" stroke-width="0.45" font-weight="bold" textLength="55.5" lengthAdjust="spacingAndGlyphs" transform="rotate(-90 1376.9 401.6)">HRM</text>
<rect x="1149.50" y="113.3" width="3.0" height="301.0" fill="#4a4a4a"/>
<rect x="1149.4" y="411.4" width="253.0" height="3.0" fill="#0c0c0c" opacity="0.84"/>
<rect x="1140.3" y="411.5" width="10.7" height="2.8" fill="#3a3a3a"/>
<text x="1129.2" y="421.2" font-size="21.85" text-anchor="end" fill="#202020" stroke="#202020" stroke-width="0.45" textLength="13.6" lengthAdjust="spacingAndGlyphs">0</text>
<rect x="1140.3" y="357.3" width="10.7" height="2.8" fill="#4a4a4a"/>
<text x="1129.2" y="367.0" font-size="21.85" text-anchor="end" fill="#202020" stroke="#202020" stroke-width="0.45" textLength="13.6" lengthAdjust="spacingAndGlyphs">1</text>
<rect x="1140.3" y="303.1" width="10.7" height="2.8" fill="#4a4a4a"/>
<text x="1129.2" y="312.8" font-size="21.85" text-anchor="end" fill="#202020" stroke="#202020" stroke-width="0.45" textLength="13.6" lengthAdjust="spacingAndGlyphs">2</text>
<rect x="1140.3" y="249.0" width="10.7" height="2.8" fill="#4a4a4a"/>
<text x="1129.2" y="258.7" font-size="21.85" text-anchor="end" fill="#202020" stroke="#202020" stroke-width="0.45" textLength="13.6" lengthAdjust="spacingAndGlyphs">3</text>
<rect x="1140.3" y="194.8" width="10.7" height="2.8" fill="#4a4a4a"/>
<text x="1129.2" y="204.5" font-size="21.85" text-anchor="end" fill="#202020" stroke="#202020" stroke-width="0.45" textLength="13.6" lengthAdjust="spacingAndGlyphs">4</text>
<rect x="1140.3" y="140.6" width="10.7" height="2.8" fill="#4a4a4a"/>
<text x="1129.2" y="150.3" font-size="21.85" text-anchor="end" fill="#202020" stroke="#202020" stroke-width="0.45" textLength="13.6" lengthAdjust="spacingAndGlyphs">5</text>
<text x="1276.2" y="65.2" font-size="28.09" text-anchor="middle" fill="#202020" stroke="#202020" stroke-width="0.45" textLength="139.8" lengthAdjust="spacingAndGlyphs">ARC-AGI-2</text>
<text x="1276.8" y="95.9" font-size="21.85" text-anchor="middle" fill="#202020" stroke="#202020" stroke-width="0.45" textLength="253.2" lengthAdjust="spacingAndGlyphs">1120 training examples</text>
<rect x="1462.3" y="410.5" width="39.8" height="2.4" fill="#fcbf11" opacity="0.6"/>
<text x="1481.7" y="405.3" font-size="18.73" text-anchor="middle" fill="#262626" stroke="#262626" stroke-width="0.25" textLength="29.1" lengthAdjust="spacingAndGlyphs">0.0</text>
<text x="1488.0" y="383.4" font-size="21.85" text-anchor="start" fill="#8c8c8c" stroke="#8c8c8c" stroke-width="0.25" textLength="119.1" lengthAdjust="spacingAndGlyphs" transform="rotate(-90 1488.0 383.4)">Direct pred</text>
<text x="1529.4" y="405.3" font-size="18.73" text-anchor="middle" fill="#262626" stroke="#262626" stroke-width="0.25" textLength="29.1" lengthAdjust="spacingAndGlyphs">0.0</text>
<text x="1535.9" y="383.4" font-size="21.85" text-anchor="start" fill="#8c8c8c" stroke="#8c8c8c" stroke-width="0.25" textLength="134.6" lengthAdjust="spacingAndGlyphs" transform="rotate(-90 1535.9 383.4)">o3-mini-high</text>
<text x="1576.7" y="405.3" font-size="18.73" text-anchor="middle" fill="#262626" stroke="#262626" stroke-width="0.25" textLength="29.1" lengthAdjust="spacingAndGlyphs">0.0</text>
<text x="1582.8" y="383.4" font-size="21.85" text-anchor="start" fill="#8c8c8c" stroke="#8c8c8c" stroke-width="0.25" textLength="149.0" lengthAdjust="spacingAndGlyphs" transform="rotate(-90 1582.8 383.4)">Claude 3.7 8K</text>
<text x="1624.4" y="405.3" font-size="18.73" text-anchor="middle" fill="#262626" stroke="#262626" stroke-width="0.25" textLength="29.1" lengthAdjust="spacingAndGlyphs">0.0</text>
<text x="1630.9" y="383.4" font-size="21.85" text-anchor="start" fill="#8c8c8c" stroke="#8c8c8c" stroke-width="0.25" textLength="141.0" lengthAdjust="spacingAndGlyphs" transform="rotate(-90 1630.9 383.4)">Deepseek R1</text>
<rect x="1652.8" y="141.8" width="40.1" height="271.1" fill="#3366ff"/>
<text x="1672.3" y="134.2" font-size="18.73" text-anchor="middle" fill="#262626" stroke="#262626" stroke-width="0.25" textLength="40.7" lengthAdjust="spacingAndGlyphs">55.0</text>
<text x="1677.1" y="401.6" font-size="21.85" text-anchor="start" fill="#ffffff" stroke="#ffffff" stroke-width="0.45" font-weight="bold" textLength="55.5" lengthAdjust="spacingAndGlyphs" transform="rotate(-90 1677.1 401.6)">HRM</text>
<rect x="1450.15" y="113.3" width="2.9" height="301.0" fill="#303030"/>
<rect x="1450.0" y="411.4" width="253.0" height="3.0" fill="#0c0c0c" opacity="0.84"/>
<rect x="1440.9" y="411.5" width="10.7" height="2.8" fill="#3a3a3a"/>
<text x="1429.8" y="421.2" font-size="21.85" text-anchor="end" fill="#202020" stroke="#202020" stroke-width="0.45" textLength="13.6" lengthAdjust="spacingAndGlyphs">0</text>
<rect x="1440.9" y="312.9" width="10.7" height="2.8" fill="#303030"/>
<text x="1429.8" y="322.6" font-size="21.85" text-anchor="end" fill="#202020" stroke="#202020" stroke-width="0.45" textLength="27.1" lengthAdjust="spacingAndGlyphs">20</text>
<rect x="1440.9" y="214.3" width="10.7" height="2.8" fill="#303030"/>
<text x="1429.8" y="224.0" font-size="21.85" text-anchor="end" fill="#202020" stroke="#202020" stroke-width="0.45" textLength="27.1" lengthAdjust="spacingAndGlyphs">40</text>
<rect x="1440.9" y="115.7" width="10.7" height="2.8" fill="#303030"/>
<text x="1429.8" y="125.4" font-size="21.85" text-anchor="end" fill="#202020" stroke="#202020" stroke-width="0.45" textLength="27.1" lengthAdjust="spacingAndGlyphs">60</text>
<text x="1576.5" y="65.2" font-size="28.09" text-anchor="middle" fill="#202020" stroke="#202020" stroke-width="0.45" textLength="307.8" lengthAdjust="spacingAndGlyphs">Sudoku-Extreme (9x9)</text>
<text x="1577.3" y="95.9" font-size="21.85" text-anchor="middle" fill="#202020" stroke="#202020" stroke-width="0.45" textLength="253.2" lengthAdjust="spacingAndGlyphs">1000 training examples</text>
<rect x="1763.5" y="410.5" width="39.8" height="2.4" fill="#fcbf11" opacity="0.6"/>
<text x="1782.9" y="405.3" font-size="18.73" text-anchor="middle" fill="#262626" stroke="#262626" stroke-width="0.25" textLength="29.1" lengthAdjust="spacingAndGlyphs">0.0</text>
<text x="1788.5" y="383.4" font-size="21.85" text-anchor="start" fill="#8c8c8c" stroke="#8c8c8c" stroke-width="0.25" textLength="119.1" lengthAdjust="spacingAndGlyphs" transform="rotate(-90 1788.5 383.4)">Direct pred</text>
<text x="1830.6" y="405.3" font-size="18.73" text-anchor="middle" fill="#262626" stroke="#262626" stroke-width="0.25" textLength="29.1" lengthAdjust="spacingAndGlyphs">0.0</text>
<text x="1836.4" y="383.4" font-size="21.85" text-anchor="start" fill="#8c8c8c" stroke="#8c8c8c" stroke-width="0.25" textLength="134.6" lengthAdjust="spacingAndGlyphs" transform="rotate(-90 1836.4 383.4)">o3-mini-high</text>
<text x="1877.9" y="405.3" font-size="18.73" text-anchor="middle" fill="#262626" stroke="#262626" stroke-width="0.25" textLength="29.1" lengthAdjust="spacingAndGlyphs">0.0</text>
<text x="1883.3" y="383.4" font-size="21.85" text-anchor="start" fill="#8c8c8c" stroke="#8c8c8c" stroke-width="0.25" textLength="149.0" lengthAdjust="spacingAndGlyphs" transform="rotate(-90 1883.3 383.4)">Claude 3.7 8K</text>
<text x="1925.6" y="405.3" font-size="18.73" text-anchor="middle" fill="#262626" stroke="#262626" stroke-width="0.25" textLength="29.1" lengthAdjust="spacingAndGlyphs">0.0</text>
<text x="1931.4" y="383.4" font-size="21.85" text-anchor="start" fill="#8c8c8c" stroke="#8c8c8c" stroke-width="0.25" textLength="141.0" lengthAdjust="spacingAndGlyphs" transform="rotate(-90 1931.4 383.4)">Deepseek R1</text>
<rect x="1953.4" y="142.1" width="39.8" height="270.8" fill="#3366ff"/>
<text x="1972.8" y="134.5" font-size="18.73" text-anchor="middle" fill="#262626" stroke="#262626" stroke-width="0.25" textLength="40.7" lengthAdjust="spacingAndGlyphs">74.5</text>
<text x="1978.1" y="401.6" font-size="21.85" text-anchor="start" fill="#ffffff" stroke="#ffffff" stroke-width="0.45" font-weight="bold" textLength="55.5" lengthAdjust="spacingAndGlyphs" transform="rotate(-90 1978.1 401.6)">HRM</text>
<rect x="1751.50" y="113.3" width="2.6" height="301.0" fill="#1c1c1c"/>
<rect x="1751.2" y="411.4" width="253.0" height="3.0" fill="#0c0c0c" opacity="0.84"/>
<rect x="1742.1" y="411.5" width="10.7" height="2.8" fill="#3a3a3a"/>
<text x="1731.0" y="421.2" font-size="21.85" text-anchor="end" fill="#202020" stroke="#202020" stroke-width="0.45" textLength="13.6" lengthAdjust="spacingAndGlyphs">0</text>
<rect x="1742.1" y="338.8" width="10.7" height="2.8" fill="#1c1c1c"/>
<text x="1731.0" y="348.5" font-size="21.85" text-anchor="end" fill="#202020" stroke="#202020" stroke-width="0.45" textLength="27.1" lengthAdjust="spacingAndGlyphs">20</text>
<rect x="1742.1" y="266.1" width="10.7" height="2.8" fill="#1c1c1c"/>
<text x="1731.0" y="275.8" font-size="21.85" text-anchor="end" fill="#202020" stroke="#202020" stroke-width="0.45" textLength="27.1" lengthAdjust="spacingAndGlyphs">40</text>
<rect x="1742.1" y="193.4" width="10.7" height="2.8" fill="#1c1c1c"/>
<text x="1731.0" y="203.1" font-size="21.85" text-anchor="end" fill="#202020" stroke="#202020" stroke-width="0.45" textLength="27.1" lengthAdjust="spacingAndGlyphs">60</text>
<rect x="1742.1" y="120.7" width="10.7" height="2.8" fill="#1c1c1c"/>
<text x="1731.0" y="130.4" font-size="21.85" text-anchor="end" fill="#202020" stroke="#202020" stroke-width="0.45" textLength="27.1" lengthAdjust="spacingAndGlyphs">80</text>
<text x="1878.0" y="65.2" font-size="28.09" text-anchor="middle" fill="#202020" stroke="#202020" stroke-width="0.45" textLength="263.2" lengthAdjust="spacingAndGlyphs">Maze-Hard (30x30)</text>
<text x="1878.2" y="95.9" font-size="21.85" text-anchor="middle" fill="#202020" stroke="#202020" stroke-width="0.45" textLength="253.2" lengthAdjust="spacingAndGlyphs">1000 training examples</text>
<text x="784.5" y="264.0" font-size="21.85" text-anchor="middle" fill="#202020" stroke="#202020" stroke-width="0.45" textLength="124.3" lengthAdjust="spacingAndGlyphs" transform="rotate(-90 784.5 264.0)">Accuracy %</text>
<rect x="901" y="447.4" width="52" height="20.7" fill="#bdbdbd"/>
<rect x="1337.8" y="448.5" width="25" height="19.6" fill="#fcbf11"/>
<rect x="1362.6" y="448.5" width="25.6" height="19.6" fill="#3366ff"/>
<text x="964.0" y="466.6" font-size="25" text-anchor="start" fill="#202020" stroke="#202020" stroke-width="0.45" textLength="349.3" lengthAdjust="spacingAndGlyphs">Chain-of-thought, pretrained</text>
<text x="1399.5" y="466.6" font-size="25" text-anchor="start" fill="#202020" stroke="#202020" stroke-width="0.45" textLength="490.4" lengthAdjust="spacingAndGlyphs">Direct prediction, small-sample learning</text>
</g>
</svg>
</body></html>
